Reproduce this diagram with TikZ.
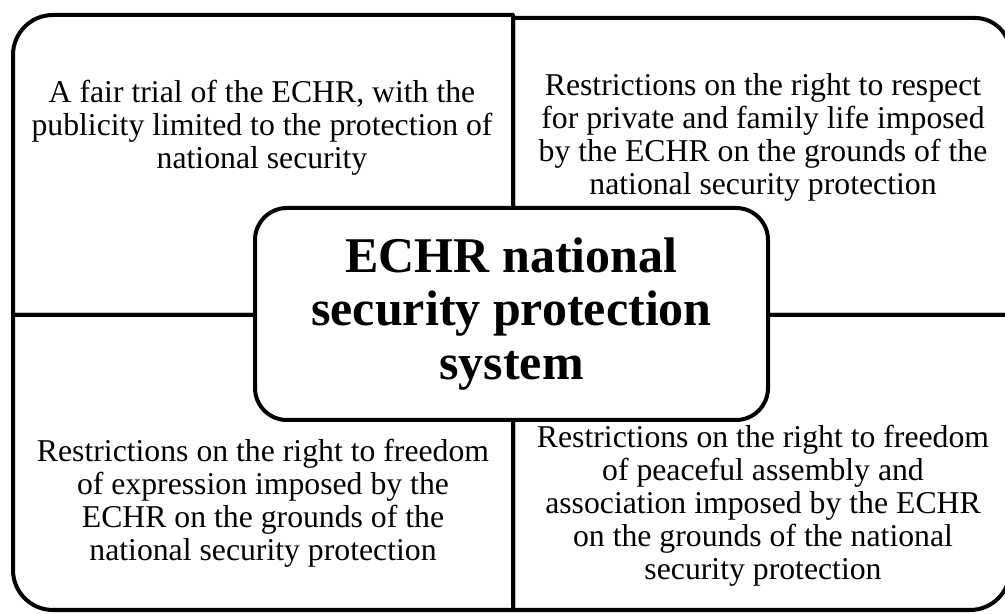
\documentclass[tikz,border=0pt]{standalone}
\usepackage{fontspec}
\setmainfont{Liberation Serif}
\tikzset{
  quad/.style={line width=3pt, line join=round},
  celltext/.style={align=center, inner sep=0pt, font=\fontsize{23.8}{24.75}\selectfont},
  hub/.style={draw, line width=3pt, fill=white, rounded corners=24pt, align=center,
    minimum width=384.75pt, minimum height=159pt, inner sep=0pt,
    font=\bfseries\fontsize{37.5}{40}\selectfont}
}
\begin{document}
\begin{tikzpicture}[x=0.75pt, y=0.75pt]
        \useasboundingbox (0,0) rectangle (1005,613);

        \draw[quad] (513,298) -- (13,298) -- (13,558) arc[start angle=180, end angle=90, radius=40] -- (513,598) -- cycle;
        \draw[quad] (513,298) -- (513,595) -- (975,595) arc[start angle=90, end angle=0, radius=35] -- (1010,298) -- cycle;
        \draw[quad] (513,298) -- (13,298) -- (13,43) arc[start angle=180, end angle=270, radius=40] -- (513,3) -- cycle;
        \draw[quad] (513,298) -- (1010,298) -- (1010,43) arc[start angle=0, end angle=-90, radius=40] -- (513,3) -- cycle;

        \node[celltext] (trial) at (262,485) {A fair trial of the ECHR, with the\\publicity limited to the protection of\\national security};
        \node[celltext] (private) at (763,476) {Restrictions on the right to respect\\for private and family life imposed\\by the ECHR on the grounds of the\\national security protection};
        \node[celltext] (expression) at (263,110) {Restrictions on the right to freedom\\of expression imposed by the\\ECHR on the grounds of the\\national security protection};
        \node[celltext] (assembly) at (763,107) {Restrictions on the right to freedom\\of peaceful assembly and\\association imposed by the ECHR\\on the grounds of the national\\security protection};

        \node[hub] (system) at (511.5,299) {ECHR national\\security protection\\system};

    \end{tikzpicture}
\end{document}
